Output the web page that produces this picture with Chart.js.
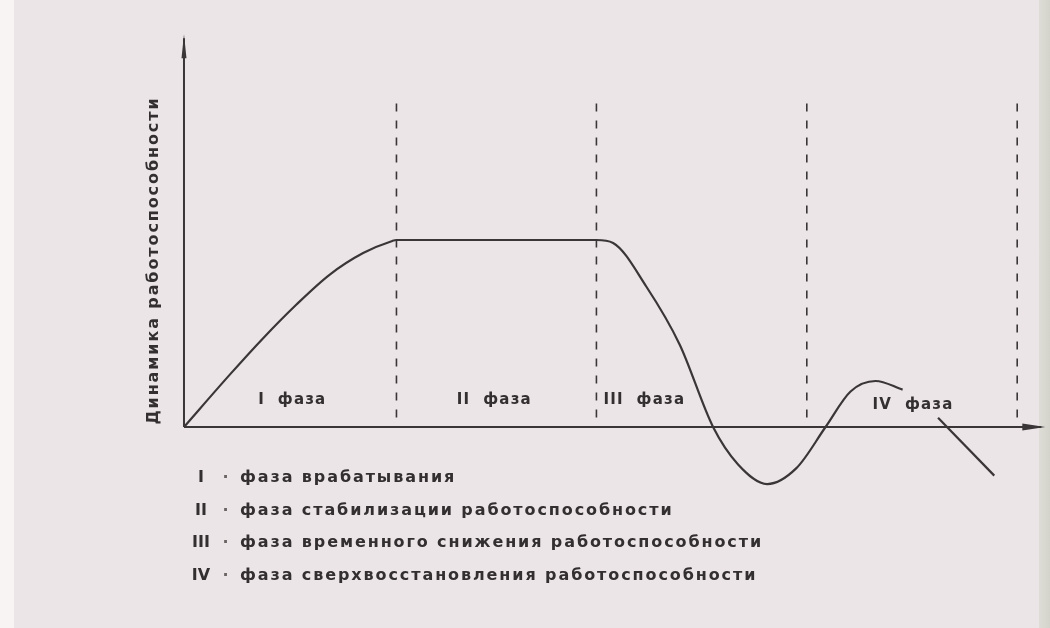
<!DOCTYPE html>
<html lang="ru">
<head>
<meta charset="utf-8">
<title>Динамика работоспособности</title>
<script src="https://cdn.jsdelivr.net/npm/chart.js@4.4.1/dist/chart.umd.min.js"></script>
<style>
    body {
        margin: 0;
        background: #ece5e7;
    }

    #wrap {
        position: relative;
        width: 1050px;
        height: 628px;
        overflow: hidden;
        background: #ece5e7;
    }

    /* светлое поле слева и тень переплёта справа */
    .edge_l {
        position: absolute;
        left: 0;
        top: 0;
        width: 14px;
        height: 628px;
        background: #f8f4f4;
    }

    .edge_r {
        position: absolute;
        right: 0;
        top: 0;
        width: 11px;
        height: 628px;
        background: linear-gradient(to right, #dedcd6, #d3d3cb);
    }

    #chart {
        position: absolute;
        left: 0;
        top: 0;
    }

    #legenda {
        position: absolute;
        left: 191px;
        top: 465px;
        font-family: 'DejaVu Sans', sans-serif;
        font-weight: bold;
        font-size: 16px;
        letter-spacing: 1.9px;
        color: #332f30;
    }

    .linha {
        height: 32.6px;
        line-height: 24px;
        white-space: nowrap;
    }

    .num {
        display: inline-block;
        width: 20px;
        text-align: center;
        letter-spacing: 0;
    }

    .ponto {
        display: inline-block;
        width: 29px;
        text-align: center;
        letter-spacing: 0;
        color: #6a6565;
    }
</style>
</head>
<body>
<div id="wrap">
    <div class="edge_l"></div>
    <div class="edge_r"></div>
    <canvas id="chart" width="1050" height="628"></canvas>
    <div id="legenda"></div>
</div>

<script>
// кривая работоспособности (время в долях фазы, уровень в долях плато)
var curva_x = [0, 0.22, 0.38, 0.54, 0.70, 0.86, 1.00, 1.02, 1.50, 1.98, 2.06, 2.22, 2.38, 2.54, 2.66, 2.80, 2.94, 3.08, 3.20, 3.32, 3.45];
var curva_y = [0, 0.28, 0.475, 0.655, 0.815, 0.93, 0.995, 1.0, 1.0, 1.0, 0.984, 0.75, 0.44, 0.0, -0.20, -0.305, -0.22, 0.0, 0.19, 0.246, 0.20];

// продолжение после IV фазы
var cauda_x = [3.62, 3.89];
var cauda_y = [0.05, -0.26];

// границы фаз (пунктир)
var limites_fase = [1.02, 1.98, 2.99, 4.0];

var nomes_fase = ['I  фаза', 'II  фаза', 'III  фаза', 'IV  фаза'];
var numeros = ['I', 'II', 'III', 'IV'];
var descricoes = [
    'фаза врабатывания',
    'фаза стабилизации работоспособности',
    'фаза временного снижения работоспособности',
    'фаза сверхвосстановления работоспособности'
];
var titulo_y = 'Динамика работоспособности';

var TINTA = '#3a3637';
var TOPO_PONTILHADO = 1.73;
var FIM_EIXO_X = 4.135;
var FIM_EIXO_Y = 2.1;

// где стоят подписи фаз
var pos_rotulos = [[0.52, 0.145], [1.49, 0.145], [2.21, 0.145], [3.50, 0.118]];

function pontos(lx, ly) {
    var lista = [];
    for (let c = 0; c < lx.length; c++) {
        lista.push({ x: lx[c], y: ly[c] });
    }
    return lista;
}

function montar_legenda() {
    var div = document.getElementById('legenda');
    for (let c = 0; c < numeros.length; c++) {
        var linha = document.createElement('div');
        linha.className = 'linha';
        linha.innerHTML = `<span class="num">${numeros[c]}</span><span class="ponto">·</span>${descricoes[c]}`;
        div.appendChild(linha);
    }
}

var esquema = {
    id: 'esquema',
    beforeDatasetsDraw(chart) {
        var ctx = chart.ctx;
        var sx = chart.scales.x;
        var sy = chart.scales.y;
        var x0 = sx.getPixelForValue(0);
        var y0 = sy.getPixelForValue(0);
        var xf = sx.getPixelForValue(FIM_EIXO_X);
        var yf = sy.getPixelForValue(FIM_EIXO_Y);

        ctx.save();
        ctx.strokeStyle = TINTA;
        ctx.fillStyle = TINTA;
        ctx.lineWidth = 2;
        ctx.lineCap = 'butt';

        // ось X
        ctx.beginPath();
        ctx.moveTo(x0, y0);
        ctx.lineTo(xf - 4, y0);
        ctx.stroke();
        ctx.beginPath();
        ctx.moveTo(xf, y0);
        ctx.lineTo(xf - 23, y0 - 3.5);
        ctx.lineTo(xf - 23, y0 + 3.5);
        ctx.closePath();
        ctx.fill();

        // ось Y
        ctx.beginPath();
        ctx.moveTo(x0, y0);
        ctx.lineTo(x0, yf + 4);
        ctx.stroke();
        ctx.beginPath();
        ctx.moveTo(x0, yf);
        ctx.lineTo(x0 - 2.5, yf + 24);
        ctx.lineTo(x0 + 2.5, yf + 24);
        ctx.closePath();
        ctx.fill();
        ctx.restore();
    },
    afterDatasetsDraw(chart) {
        var ctx = chart.ctx;
        var sx = chart.scales.x;
        var sy = chart.scales.y;

        ctx.save();
        ctx.fillStyle = '#332f30';
        ctx.font = "bold 15px 'DejaVu Sans'";
        ctx.letterSpacing = '1.2px';
        ctx.textAlign = 'center';
        ctx.textBaseline = 'middle';

        for (let c = 0; c < nomes_fase.length; c++) {
            ctx.fillText(nomes_fase[c], sx.getPixelForValue(pos_rotulos[c][0]), sy.getPixelForValue(pos_rotulos[c][1]));
        }

        // подпись оси Y
        ctx.font = "bold 16px 'DejaVu Sans'";
        ctx.letterSpacing = '1.9px';
        ctx.translate(sx.getPixelForValue(0) - 30, sy.getPixelForValue(0.89));
        ctx.rotate(-Math.PI / 2);
        ctx.fillText(titulo_y, 0, 0);
        ctx.restore();
    }
};

function grafico() {
    var conjuntos = [];

    for (let c = 0; c < limites_fase.length; c++) {
        conjuntos.push({
            data: [{ x: limites_fase[c], y: TOPO_PONTILHADO }, { x: limites_fase[c], y: 0 }],
            borderColor: TINTA,
            borderWidth: 1.6,
            borderDash: [8, 9],
            pointRadius: 0
        });
    }

    conjuntos.push({
        data: pontos(curva_x, curva_y),
        borderColor: TINTA,
        borderWidth: 2.2,
        cubicInterpolationMode: 'monotone',
        pointRadius: 0
    });

    conjuntos.push({
        data: pontos(cauda_x, cauda_y),
        borderColor: TINTA,
        borderWidth: 2.2,
        pointRadius: 0
    });

    const config = {
        type: 'line',
        data: { datasets: conjuntos },
        options: {
            responsive: false,
            animation: false,
            devicePixelRatio: 1,
            events: [],
            layout: { padding: 0 },
            plugins: {
                legend: { display: false },
                tooltip: { enabled: false }
            },
            scales: {
                x: { type: 'linear', display: false, min: -0.8833, max: 4.1575 },
                y: { type: 'linear', display: false, min: -1.0749, max: 2.2834 }
            }
        },
        plugins: [esquema]
    };

    new Chart(document.getElementById('chart'), config);
}

montar_legenda();
grafico();
</script>
</body>
</html>
